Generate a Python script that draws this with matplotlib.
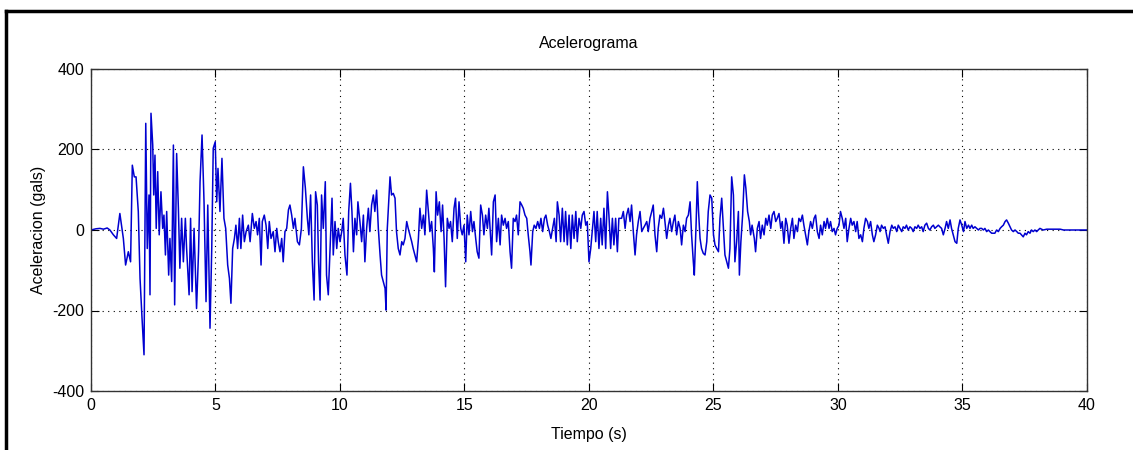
import numpy as np
import matplotlib.pyplot as plt
from matplotlib.lines import Line2D

plt.rcParams["font.family"] = ["Liberation Sans", "DejaVu Sans"]
plt.rcParams["font.size"] = 11.5
plt.rcParams["axes.unicode_minus"] = False

# Acelerograma: tiempo [s], aceleracion [gals]
t_0_5 = [0.00, 0.20, 0.36, 0.50, 0.65, 0.76, 0.90, 1.03, 1.16, 1.30, 1.39, 1.50, 1.59,
         1.66, 1.74, 1.81, 1.90, 1.97, 2.05, 2.13, 2.20, 2.26, 2.33, 2.37, 2.41, 2.48,
         2.52, 2.57, 2.62, 2.68, 2.74, 2.81, 2.88, 2.93, 2.99, 3.04, 3.12, 3.17, 3.24,
         3.31, 3.36, 3.44, 3.51, 3.57, 3.64, 3.71, 3.79, 3.84, 3.94, 4.00, 4.06, 4.14,
         4.24, 4.32, 4.38, 4.46, 4.54, 4.62, 4.69, 4.78, 4.85, 4.91, 4.99]
a_0_5 = [0, 3, 4, 2, 5, 0, -12, -21, 41, -21, -87, -54, -79,
         161, 132, 132, 46, -120, -219, -310, 265, -46, 87, -161, 290, 211,
         87, 186, 4, 145, -12, 95, 4, 37, -62, 46, -112, -21, -128,
         211, -186, 190, 54, -95, 29, -79, 29, -46, -161, 29, -153, 4,
         -195, -54, 120, 236, 70, -178, 62, -244, -46, 203, 219]

t_5_10 = [5.05, 5.10, 5.18, 5.26, 5.34, 5.41, 5.49, 5.56, 5.62, 5.69, 5.76, 5.82, 5.89,
          5.96, 6.02, 6.09, 6.16, 6.23, 6.32, 6.39, 6.48, 6.56, 6.63, 6.69, 6.76, 6.83,
          6.88, 6.96, 7.03, 7.10, 7.16, 7.23, 7.32, 7.39, 7.46, 7.52, 7.59, 7.66, 7.72,
          7.79, 7.86, 7.93, 7.99, 8.06, 8.13, 8.19, 8.29, 8.37, 8.45, 8.53, 8.61, 8.69,
          8.75, 8.82, 8.89, 8.96, 9.02, 9.09, 9.14, 9.20, 9.26, 9.33, 9.41, 9.46, 9.53,
          9.60, 9.68, 9.73, 9.80, 9.87, 9.93]
a_5_10 = [70, 153, 46, 178, 29, 4, -87, -120, -182, -46, -21, 12, -46,
          29, -46, 37, -29, -4, 12, -29, 41, 4, 21, -12, 29, -87,
          21, 37, 12, -46, 21, -21, -4, -54, 4, -29, -54, -21, -79,
          -4, 4, 50, 62, 37, 4, 29, -29, -37, 4, 157, 104, 29,
          -12, 87, -79, -174, 95, 62, -79, -174, 87, 4, 120, -112, -161,
          -46, 79, -62, 21, -46, 4]

t_10_15 = [10.00, 10.07, 10.13, 10.20, 10.28, 10.35, 10.42, 10.48, 10.54, 10.60, 10.67,
           10.72, 10.80, 10.87, 10.94, 11.00, 11.07, 11.14, 11.20, 11.27, 11.34, 11.40,
           11.47, 11.54, 11.61, 11.67, 11.74, 11.81, 11.85, 11.90, 11.97, 12.01, 12.07,
           12.14, 12.21, 12.27, 12.34, 12.41, 12.48, 12.54, 12.61, 12.68, 12.74, 12.81,
           12.88, 12.94, 13.01, 13.08, 13.15, 13.21, 13.28, 13.35, 13.41, 13.48, 13.55,
           13.61, 13.68, 13.75, 13.79, 13.86, 13.92, 13.99, 14.06, 14.12, 14.18, 14.24,
           14.31, 14.38, 14.44, 14.51, 14.58, 14.64, 14.71, 14.78, 14.85, 14.91, 14.98]
a_10_15 = [-29, -4, 29, -62, -112, 46, 116, 46, -54, 29, -12,
           70, 21, -29, 37, -79, 4, 54, -4, 62, 87, 46,
           99, 4, -62, -112, -128, -145, -199, 4, 87, 132, 87,
           91, 79, -4, -46, -62, -29, -37, -21, 21, 4, -12,
           -29, -46, -62, -79, -21, 54, 4, 37, -12, 99, 46,
           -4, 21, -46, -104, 95, 37, 70, -4, 62, -21, -141,
           29, 4, 21, -29, 54, 79, -21, 70, 4, -12, 12]

t_15_20 = [15.05, 15.11, 15.18, 15.25, 15.32, 15.38, 15.45, 15.51, 15.58, 15.65, 15.72,
           15.78, 15.85, 15.92, 15.98, 16.09, 16.16, 16.23, 16.29, 16.36, 16.43, 16.49,
           16.56, 16.63, 16.69, 16.76, 16.83, 16.89, 16.96, 17.03, 17.09, 17.16, 17.23,
           17.30, 17.36, 17.43, 17.50, 17.56, 17.63, 17.67, 17.74, 17.80, 17.87, 17.94,
           18.01, 18.07, 18.14, 18.21, 18.27, 18.34, 18.41, 18.47, 18.54, 18.61, 18.68,
           18.73, 18.80, 18.86, 18.93, 19.00, 19.06, 19.13, 19.20, 19.27, 19.33, 19.40,
           19.47, 19.53, 19.60, 19.67, 19.73, 19.80, 19.87, 19.93]
a_15_20 = [-79, 37, -12, 46, -4, 21, -21, -54, -70, 62, 37,
           -12, 37, 4, 54, -62, 70, 87, -29, 29, -37, 37,
           12, 29, 4, 21, -54, -95, 29, 21, 37, -12, 70,
           62, 54, 37, 29, -12, -54, -87, -4, 12, 4, 21,
           4, 29, -4, 29, 37, 12, -4, -21, 4, 29, -29,
           70, 37, -29, 54, -29, 46, -37, 37, -46, 37, -21,
           46, -29, 29, 4, 37, 46, 12, 21]

t_20_25 = [20.00, 20.07, 20.14, 20.20, 20.27, 20.33, 20.40, 20.47, 20.53, 20.60, 20.67,
           20.74, 20.80, 20.87, 20.94, 21.00, 21.07, 21.14, 21.20, 21.31, 21.38, 21.45,
           21.51, 21.58, 21.65, 21.71, 21.78, 21.85, 21.91, 21.98, 22.05, 22.12, 22.18,
           22.25, 22.32, 22.38, 22.45, 22.52, 22.58, 22.65, 22.72, 22.78, 22.85, 22.92,
           22.99, 23.05, 23.12, 23.19, 23.25, 23.32, 23.39, 23.45, 23.52, 23.59, 23.66,
           23.72, 23.79, 23.86, 23.92, 23.99, 24.06, 24.12, 24.19, 24.23, 24.30, 24.35,
           24.40, 24.46, 24.52, 24.59, 24.66, 24.73, 24.79, 24.86, 24.93]
a_20_25 = [-79, -46, 4, 46, -29, 46, -46, 29, -37, 54, -46,
           95, 37, -46, 29, -37, 29, -54, 29, 29, 46, 4,
           37, 54, 21, 62, -4, -62, -12, 21, 46, -4, 4,
           12, 21, -4, 29, 46, 62, -12, -54, 4, 37, 29,
           54, 21, -21, 12, 29, -4, 21, 37, -12, 21, 4,
           -37, 12, -4, 29, 37, 70, -12, -79, -112, 12, 120,
           46, -21, -46, -58, -62, -29, 46, 87, 79]

t_25_30 = [25.00, 25.06, 25.13, 25.20, 25.26, 25.33, 25.40, 25.46, 25.53, 25.60, 25.66,
           25.73, 25.80, 25.86, 25.93, 26.00, 26.04, 26.10, 26.17, 26.24, 26.30, 26.37,
           26.44, 26.49, 26.55, 26.64, 26.69, 26.76, 26.83, 26.89, 26.96, 27.03, 27.10,
           27.16, 27.23, 27.30, 27.36, 27.43, 27.50, 27.56, 27.63, 27.70, 27.76, 27.83,
           27.90, 27.96, 28.03, 28.10, 28.17, 28.23, 28.30, 28.37, 28.43, 28.50, 28.57,
           28.63, 28.70, 28.77, 28.83, 28.90, 28.97, 29.04, 29.10, 29.17, 29.24, 29.30,
           29.37, 29.44, 29.50, 29.57, 29.64, 29.70, 29.77, 29.84, 29.90, 29.97]
a_25_30 = [-12, -37, -46, -54, 29, 79, 4, -62, -79, -95, -46,
           132, 87, -79, -29, 46, -112, -29, 37, 137, 104, 46,
           21, -12, 12, -21, -54, 4, 21, -21, 12, -12, 29,
           12, 37, 4, 37, 46, 21, 29, 41, 4, 21, -33,
           29, 12, -33, 4, 29, -21, 12, -4, 29, 21, 37,
           12, -12, -37, -4, 21, 4, 29, 37, -4, -21, 12,
           -12, 21, 4, 29, 4, 21, -4, 4, -12, 4]

t_30_35 = [30.04, 30.10, 30.17, 30.24, 30.31, 30.37, 30.44, 30.51, 30.57, 30.64, 30.71,
           30.77, 30.84, 30.91, 30.98, 31.04, 31.11, 31.18, 31.24, 31.31, 31.38, 31.44,
           31.51, 31.58, 31.65, 31.69, 31.75, 31.82, 31.89, 31.95, 32.02, 32.09, 32.16,
           32.22, 32.29, 32.36, 32.42, 32.49, 32.56, 32.62, 32.69, 32.75, 32.82, 32.89,
           32.96, 33.02, 33.09, 33.16, 33.22, 33.29, 33.36, 33.42, 33.49, 33.56, 33.63,
           33.69, 33.76, 33.83, 33.89, 33.96, 34.03, 34.09, 34.16, 34.23, 34.30, 34.36,
           34.43, 34.50, 34.56, 34.63, 34.70, 34.77, 34.83, 34.90, 34.97]
a_30_35 = [12, 46, 29, 4, 29, -29, 4, 29, 12, 21, -4,
           21, -21, -12, -29, 4, 29, 21, 4, 21, -12, -29,
           -12, 12, 4, -4, 12, 4, 8, -12, -33, -4, 12,
           4, 8, -4, 12, 4, -4, 8, 4, 12, 0, 8,
           4, -4, 8, 4, 12, 4, 8, -4, 12, 17, 4,
           0, 8, 12, 4, 8, 12, 8, 4, -12, 4, 21,
           4, 25, 4, -12, -29, -33, 4, 25, 12]

t_35_40 = [35.04, 35.10, 35.17, 35.24, 35.30, 35.37, 35.43, 35.50, 35.57, 35.64, 35.70,
           35.77, 35.84, 35.90, 35.97, 36.04, 36.10, 36.17, 36.24, 36.30, 36.37, 36.44,
           36.51, 36.57, 36.64, 36.71, 36.77, 36.84, 36.91, 36.97, 37.04, 37.11, 37.18,
           37.24, 37.31, 37.37, 37.44, 37.51, 37.57, 37.64, 37.71, 37.77, 37.84, 37.91,
           37.98, 38.04, 38.11, 38.24, 38.38, 38.65, 38.92, 39.06, 40.00]
a_35_40 = [-4, 21, 4, 12, 4, 12, 4, 8, 4, 0, 4,
           4, 0, 4, -4, 0, -4, -8, -8, -8, 0, -4,
           4, 8, 12, 21, 25, 17, 8, 0, -4, 0, -4,
           -8, -8, -12, -17, -8, -12, -4, -8, 0, -4, 0,
           -4, 0, 4, 0, 2, 2, 2, 0, 0]

tiempo = np.array(t_0_5 + t_5_10 + t_10_15 + t_15_20 + t_20_25 + t_25_30 + t_30_35 + t_35_40)
aceleracion = np.array(a_0_5 + a_5_10 + a_10_15 + a_15_20 + a_20_25 + a_25_30 + a_30_35 + a_35_40)

fig = plt.figure(figsize=(11.33, 4.5), dpi=100)
ax = fig.add_axes([0.0803, 0.1311, 0.8791, 0.7156])

ax.plot(tiempo, aceleracion, color="#0000d0", linewidth=1.1)

ax.set_xlim(0, 40)
ax.set_ylim(-400, 400)
ax.set_xticks(np.arange(0, 41, 5))
ax.set_yticks([-400, -200, 0, 200, 400])
ax.grid(True, linestyle=(0, (1, 4)), color="black", linewidth=0.8)
ax.tick_params(direction="in", length=6, top=True, right=True, width=0.8,
               labelsize=11.5, pad=5)
for s in ax.spines.values():
    s.set_linewidth(1.0)
    s.set_color("#333333")

ax.set_title("Acelerograma", fontsize=11.5, pad=15)
ax.set_xlabel("Tiempo (s)", fontsize=11.5)
ax.set_ylabel("Aceleracion (gals)", fontsize=11.5)
ax.xaxis.set_label_coords(0.5, -0.112)
ax.yaxis.set_label_coords(-0.045, 0.5)

# marco exterior (solo borde superior e izquierdo visibles)
fig.add_artist(Line2D([6 / 1133, 1.0], [1 - 11 / 450, 1 - 11 / 450],
                      transform=fig.transFigure, color="black", linewidth=2.5))
fig.add_artist(Line2D([6 / 1133, 6 / 1133], [0.0, 1 - 11 / 450],
                      transform=fig.transFigure, color="black", linewidth=2.5))

fig.savefig("out.png", dpi=100)
